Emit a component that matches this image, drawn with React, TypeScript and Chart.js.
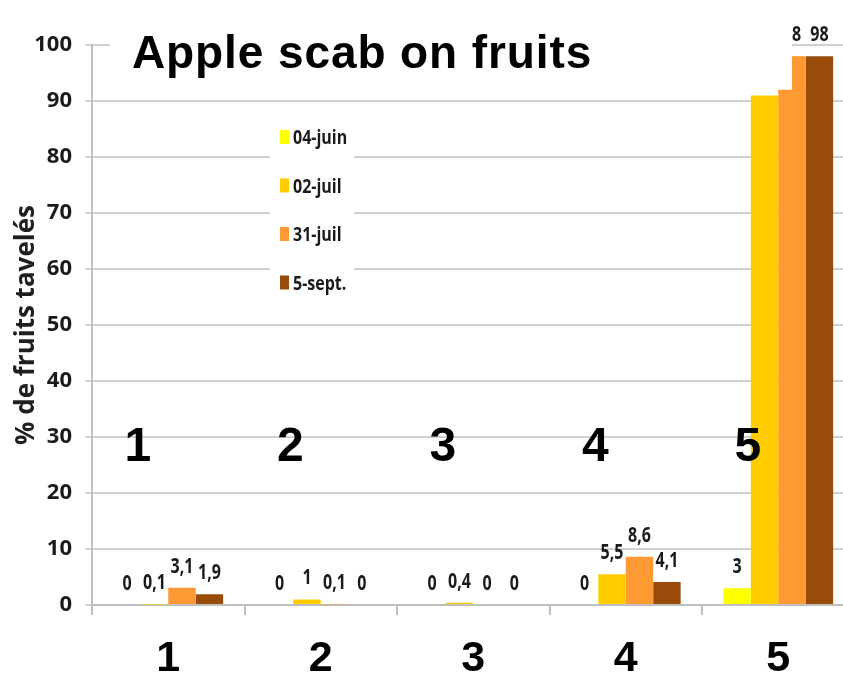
import React, { useEffect, useRef } from 'react';
import { Chart, registerables } from 'chart.js';

Chart.register(...registerables);

// ---- data ----
const categories = ['1', '2', '3', '4', '5'];
const seriesNames = ['04-juin', '02-juil', '31-juil', '5-sept.'];
const juin04 = [0, 0, 0, 0, 3];
const juil02 = [0.1, 1, 0.4, 5.5, 91];
const juil31 = [3.1, 0.1, 0, 8.6, 92];
const sept05 = [1.9, 0, 0, 4.1, 98];
// second (overlapping) 31-juil bar visible in the right half of group 5
const juil31Overlap: (number | null)[] = [null, null, null, null, 98];
const innerNumbers = ['1', '2', '3', '4', '5'];
const innerNumbersLevel = 28;
const titleText = 'Apple scab on fruits';
const yAxisTitle = '% de fruits tavelés';

const colors = ['#FFFF00', '#FFCC00', '#FF9933', '#994C0A'];

const EXCEL_FONT = '"Open Sans", "Noto Sans", sans-serif';
const ARIAL = '"Liberation Sans", Arial, sans-serif';

function stretchText(ctx: CanvasRenderingContext2D, text: string, x: number, y: number, sy: number) {
  ctx.save();
  ctx.translate(x, y);
  ctx.scale(1, sy);
  ctx.fillText(text, 0, 0);
  ctx.restore();
}

const fmt = (v: number) => String(v).replace('.', ',');

const decorPlugin = {
  id: 'decor',
  afterDatasetsDraw(chart: any) {
    const ctx: CanvasRenderingContext2D = chart.ctx;
    const area = chart.chartArea;
    const ys = chart.scales.y;
    const xs = chart.scales.x;

    // overlapping 31-juil bar (right half)
    const metaO = chart.getDatasetMeta(2);
    juil31Overlap.forEach((v, i) => {
      if (v == null) return;
      const el = metaO.data[i];
      const top = ys.getPixelForValue(v);
      ctx.fillStyle = colors[2];
      ctx.fillRect(el.x, top, el.width / 2, el.base - top);
    });

    // data labels
    ctx.save();
    ctx.font = `bold 16px ${EXCEL_FONT}`;
    ctx.textAlign = 'center';
    ctx.textBaseline = 'alphabetic';
    ctx.fillStyle = '#1a1a1a';
    chart.data.datasets.forEach((ds: any, di: number) => {
      const meta = chart.getDatasetMeta(di);
      meta.data.forEach((el: any, i: number) => {
        let v = ds.data[i];
        let top = el.y;
        if (di === 2 && juil31Overlap[i] != null) {
          v = juil31Overlap[i];
          top = ys.getPixelForValue(v);
        }
        stretchText(ctx, fmt(v), el.x, top - 15, 1.35);
      });
    });
    ctx.restore();

    // title box + title
    ctx.save();
    ctx.fillStyle = '#ffffff';
    ctx.fillRect(area.left + 18, area.top - 30, 682, 70);
    ctx.fillStyle = '#000000';
    ctx.font = `bold 46px ${ARIAL}`;
    (ctx as any).letterSpacing = '0.9px';
    ctx.textAlign = 'left';
    ctx.textBaseline = 'alphabetic';
    ctx.fillText(titleText, area.left + 40, area.top + 23);
    ctx.restore();

    // legend box
    ctx.save();
    const lx = area.left + 178;
    const ly = area.top + 68;
    ctx.fillStyle = '#ffffff';
    ctx.fillRect(lx, ly, 84, 190);
    ctx.font = `bold 16px ${EXCEL_FONT}`;
    ctx.textAlign = 'left';
    ctx.textBaseline = 'alphabetic';
    seriesNames.forEach((name, i) => {
      const cy = ly + 24 + i * 48.5;
      ctx.fillStyle = colors[i];
      ctx.fillRect(lx + 10, cy - 7, 9, 14);
      ctx.fillStyle = '#1a1a1a';
      stretchText(ctx, name, lx + 23, cy + 7, 1.25);
    });
    ctx.restore();

    // big numbers inside the plot
    ctx.save();
    ctx.font = `bold 48px ${ARIAL}`;
    ctx.textAlign = 'center';
    ctx.textBaseline = 'middle';
    ctx.fillStyle = '#000000';
    const cw = (area.right - area.left) / categories.length;
    innerNumbers.forEach((t, i) => {
      ctx.fillText(t, xs.getPixelForValue(i) - 0.2 * cw, ys.getPixelForValue(innerNumbersLevel));
    });
    ctx.restore();
  },
};

export default function App() {
  const ref = useRef<HTMLCanvasElement | null>(null);

  useEffect(() => {
    if (!ref.current) return;
    const series = [juin04, juil02, juil31, sept05];
    const chart = new Chart(ref.current, {
      type: 'bar',
      data: {
        labels: categories,
        datasets: series.map((d, i) => ({
          label: seriesNames[i],
          data: d,
          backgroundColor: colors[i],
          borderWidth: 0,
          categoryPercentage: 0.72,
          barPercentage: 1,
        })),
      },
      options: {
        responsive: false,
        animation: false,
        layout: { padding: { top: 45, left: 8, right: 5.5, bottom: 0 } },
        plugins: {
          legend: { display: false },
          tooltip: { enabled: false },
          title: { display: false },
        },
        scales: {
          x: {
            grid: { offset: true, drawOnChartArea: false, drawTicks: true, tickLength: 10, color: '#bfbfbf', lineWidth: 2 },
            border: { display: true, color: '#bfbfbf', width: 2 },
            ticks: {
              color: '#000000',
              padding: 23,
              font: { family: ARIAL, size: 43, weight: 'bold', lineHeight: 1 },
            },
            afterFit: (s: any) => { s.height = 76; },
          },
          y: {
            min: 0,
            max: 100,
            ticks: {
              stepSize: 10,
              color: '#1a1a1a',
              padding: 13,
              font: { family: EXCEL_FONT, size: 22, weight: 'bold' },
            },
            grid: { color: '#d0d0d0', lineWidth: 2, tickLength: 7 },
            border: { display: true, color: '#bfbfbf', width: 2 },
            title: {
              display: true,
              text: yAxisTitle,
              color: '#1f1f1f',
              font: { family: EXCEL_FONT, size: 26, weight: 'bold' },
              padding: { top: 3, bottom: 0 },
            },
            afterFit: (s: any) => { s.width = 84; },
          },
        },
      },
      plugins: [decorPlugin],
    } as any);
    return () => chart.destroy();
  }, []);

  return (
    <div style={{ position: 'fixed', left: 0, top: 0, width: 843, height: 681, overflow: 'hidden', background: '#ffffff' }}>
      <canvas ref={ref} width={860} height={681} style={{ display: 'block', width: 860, height: 681 }} />
    </div>
  );
}
